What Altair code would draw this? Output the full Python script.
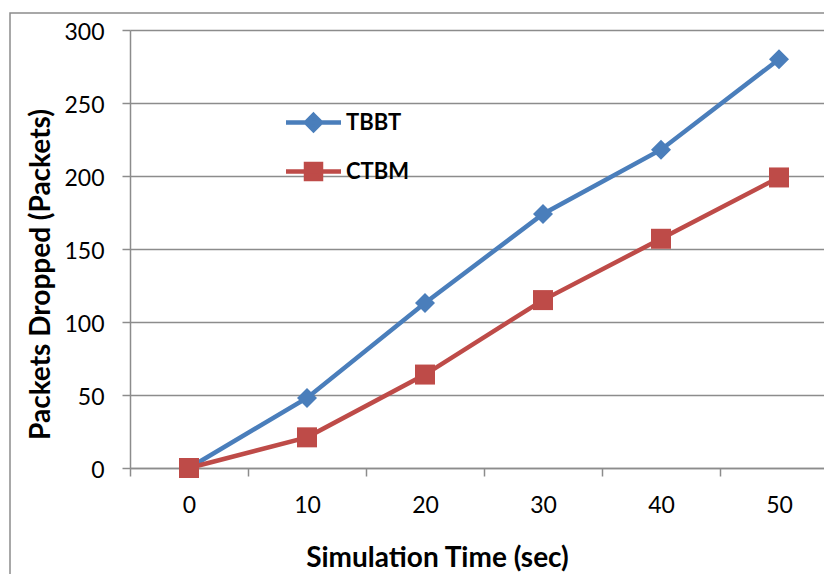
import altair as alt
import pandas as pd

# ---- data ----
times = ["0", "10", "20", "30", "40", "50"]
tbbt = [0, 48, 113, 174, 218, 280]
ctbm = [0, 21, 64, 115, 157, 199]
series_names = ["TBBT", "CTBM"]
series_colors = ["#4A7EBB", "#BE4B48"]
y_ticks = [0, 50, 100, 150, 200, 250, 300]

rows = []
for name, vals in zip(series_names, [tbbt, ctbm]):
    for t, v in zip(times, vals):
        rows.append({"time": t, "dropped": v, "series": name})
df = pd.DataFrame(rows)

FONT = "Lato"
GRAY = "#8c8c8c"
W, H = 694, 438

x_enc = alt.X(
    "time:O",
    sort=times,
    scale=alt.Scale(type="band", range=[0, 708], paddingInner=0, paddingOuter=0),
    axis=alt.Axis(
        title="Simulation Time (sec)",
        titleFont=FONT, titleFontSize=28, titleFontWeight="bold", titleColor="black",
        titleX=307, titleY=98, titleBaseline="alphabetic", titleAlign="center", titleAngle=0,
        labelFont=FONT, labelFontSize=23, labelColor="black", labelPadding=18, labelAngle=0,
        tickSize=8, tickColor=GRAY, tickWidth=1.5, tickBand="extent",
        domainColor=GRAY, domainWidth=1.5, grid=False,
    ),
)
y_enc = alt.Y(
    "dropped:Q",
    scale=alt.Scale(domain=[0, 300], nice=False, zero=True),
    axis=alt.Axis(
        values=y_ticks,
        title="Packets Dropped (Packets)",
        titleFont=FONT, titleFontSize=28, titleFontWeight="bold", titleColor="black",
        titleX=-81, titleY=244, titleAngle=270, titleBaseline="alphabetic", titleAlign="center",
        labelFont=FONT, labelFontSize=23, labelColor="black", labelPadding=18, labelOffset=2,
        tickSize=8, tickColor=GRAY, tickWidth=1.5,
        domainColor=GRAY, domainWidth=1.5,
        grid=True, gridColor=GRAY, gridWidth=1.5,
    ),
)

color_scale = alt.Scale(domain=series_names, range=series_colors)

border = alt.Chart(pd.DataFrame({"k": [0]})).mark_rect(
    fillOpacity=0, stroke=GRAY, strokeWidth=1.5
).encode(
    x=alt.value(-120), x2=alt.value(1000), y=alt.value(-17), y2=alt.value(700)
)

lines = alt.Chart(df).mark_line(strokeWidth=4.5).encode(
    x=x_enc, y=y_enc,
    color=alt.Color("series:N", scale=color_scale, legend=None),
)

points = alt.Chart(df).mark_point(filled=True, size=400, opacity=1).encode(
    x=x_enc, y=y_enc,
    color=alt.Color("series:N", scale=color_scale, legend=None),
    shape=alt.Shape("series:N", scale=alt.Scale(domain=series_names, range=["diamond", "square"]), legend=None),
)

legend_paths = [
    "M-2.75,0H2.75M0,-0.75L0.75,0L0,0.75L-0.75,0Z",
    "M-2.75,0H2.75M-0.75,-0.75H0.75V0.75H-0.75Z",
]
leg = alt.Legend(
    title=None, orient="none", legendX=171, legendY=80, padding=0,
    symbolSize=400, symbolStrokeWidth=4.5,
    labelFont=FONT, labelFontSize=22, labelFontWeight="bold", labelColor="black",
    labelOffset=20, rowPadding=16,
)
legend_layer = alt.Chart(df).transform_filter("false").mark_point(strokeWidth=4.5, opacity=1).encode(
    fill=alt.Fill("series:N", scale=alt.Scale(domain=series_names, range=series_colors), legend=leg),
    stroke=alt.Stroke("series:N", scale=alt.Scale(domain=series_names, range=series_colors), legend=leg),
    shape=alt.Shape("series:N", scale=alt.Scale(domain=series_names, range=legend_paths), legend=leg),
)

chart = alt.layer(border, lines, points, legend_layer).resolve_scale(
    shape="independent", fill="independent", stroke="independent"
).properties(
    width=W, height=H,
    autosize=alt.AutoSizeParams(type="none"),
    padding={"left": 122, "top": 22, "right": 0, "bottom": 106},
    background="white",
).configure_view(stroke=None)

chart.save("out.html", embed_options={"renderer": "svg", "actions": False})
